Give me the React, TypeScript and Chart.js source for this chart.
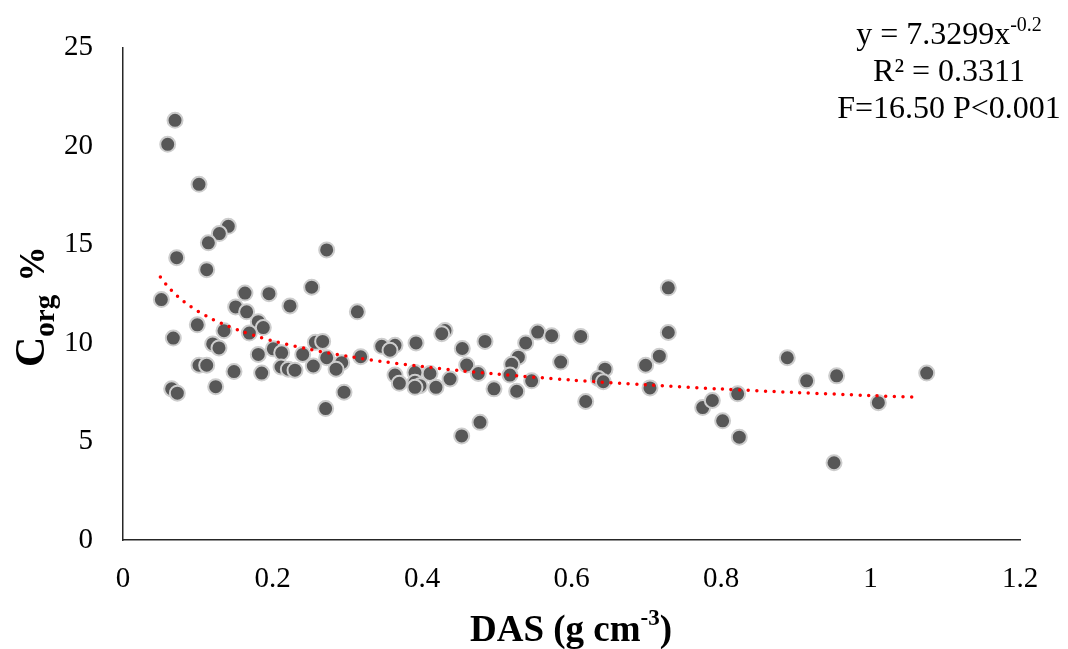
import React, { useEffect, useRef } from "react";
import { Chart, registerables } from "chart.js";

Chart.register(...registerables);

// Bulk density (DAS, g cm-3) values
const DAS = [
  0.0696, 0.0598, 0.1017, 0.1409, 0.1289, 0.1142, 0.0718, 0.112, 0.2725, 0.2524,
  0.1632, 0.1953, 0.0513, 0.1507, 0.1654, 0.2234, 0.3135, 0.181, 0.1877, 0.0994,
  0.0673, 0.1351, 0.169, 0.12, 0.1284, 0.181, 0.2011, 0.2123, 0.2404, 0.2573,
  0.2671, 0.2725, 0.2926, 0.285, 0.318, 0.1017, 0.112, 0.1485, 0.1855, 0.2114,
  0.2212, 0.2301, 0.2546, 0.0651, 0.0727, 0.124, 0.2957, 0.2711,
  0.4308, 0.4264, 0.3461, 0.3639, 0.3572, 0.392, 0.4843, 0.5548, 0.5735, 0.6123,
  0.5387, 0.4539, 0.5289, 0.52, 0.5855, 0.4598, 0.4107, 0.3906, 0.4753, 0.5177,
  0.3639, 0.4375, 0.5467, 0.3697, 0.3906, 0.3973, 0.3906, 0.4187, 0.4963, 0.5267,
  0.619, 0.4776, 0.4531,
  0.7295, 0.7295, 0.7175, 0.6992, 0.6448, 0.6359, 0.6426, 0.705, 0.7755, 0.7884,
  0.8223, 0.8022, 0.8245,
  0.8887, 0.9146, 0.9547, 1.0752, 1.0105, 0.9512,
];

// Organic carbon (Corg %) values
const CORG = [
  21.3, 20.08, 18.05, 15.92, 15.55, 15.08, 14.33, 13.72, 14.72, 12.83,
  12.53, 12.5, 12.2, 11.83, 11.58, 11.88, 11.58, 11.08, 10.78, 10.92,
  10.25, 10.62, 10.5, 9.95, 9.75, 9.42, 9.7, 9.5, 9.42, 10.03,
  10.08, 9.25, 9.0, 8.67, 9.3, 8.87, 8.87, 8.55, 8.47, 8.78,
  8.67, 8.62, 8.83, 7.67, 7.45, 7.78, 7.5, 6.67,
  10.63, 10.47, 9.83, 9.88, 9.63, 10.0, 10.08, 10.55, 10.37, 10.33,
  10.0, 9.72, 9.28, 8.92, 9.03, 8.88, 8.45, 8.5, 8.45, 8.37,
  8.37, 8.17, 8.08, 7.95, 8.0, 7.83, 7.75, 7.75, 7.67, 7.55,
  7.03, 5.97, 5.28,
  12.8, 10.53, 9.33, 8.87, 8.67, 8.2, 8.03, 7.72, 6.72, 7.08,
  7.42, 6.05, 5.22,
  9.25, 8.08, 8.33, 8.47, 6.97, 3.92,
];

// Power trend line printed on the chart: y = 7.3299 x^-0.2
const TREND_A = 7.3299;
const TREND_B = -0.2;
const TREND_X = [
  0.05, 0.06, 0.07, 0.08, 0.09, 0.1, 0.12, 0.14, 0.16, 0.18, 0.2, 0.25, 0.3,
  0.35, 0.4, 0.45, 0.5, 0.6, 0.7, 0.8, 0.9, 1.0, 1.065,
];

const X_TICKS = [0, 0.2, 0.4, 0.6, 0.8, 1, 1.2];
const Y_TICKS = [0, 5, 10, 15, 20, 25];

const ANNOT_EQ = "y = 7.3299x";
const ANNOT_EQ_SUP = "-0.2";
const ANNOT_R2 = "R\u00B2 = 0.3311";
const ANNOT_F = "F=16.50 P<0.001";

const X_TITLE = "DAS (g cm";
const X_TITLE_SUP = "-3";
const X_TITLE_END = ")";
const Y_TITLE_C = "C";
const Y_TITLE_SUB = "org";
const Y_TITLE_PCT = "%";

const SERIF = "'Liberation Serif', 'Times New Roman', serif";

const textPlugin = {
  id: "customText",
  afterDraw(chart: any) {
    const ctx = chart.ctx as CanvasRenderingContext2D;
    ctx.save();
    ctx.fillStyle = "#000";
    ctx.textBaseline = "alphabetic";
    ctx.textAlign = "left";

    // Annotation block (top right)
    const cx = 949;
    const mainFont = `32px ${SERIF}`;
    const supFont = `20px ${SERIF}`;
    ctx.font = mainFont;
    const w1 = ctx.measureText(ANNOT_EQ).width;
    ctx.font = supFont;
    const w1s = ctx.measureText(ANNOT_EQ_SUP).width;
    let x0 = cx - (w1 + w1s) / 2;
    ctx.font = mainFont;
    ctx.fillText(ANNOT_EQ, x0, 44);
    ctx.font = supFont;
    ctx.fillText(ANNOT_EQ_SUP, x0 + w1, 31);
    ctx.font = mainFont;
    ctx.textAlign = "center";
    ctx.fillText(ANNOT_R2, cx, 81);
    ctx.fillText(ANNOT_F, cx, 118);

    // X title
    ctx.textAlign = "left";
    const tFont = `bold 37px ${SERIF}`;
    const tSup = `bold 23px ${SERIF}`;
    ctx.font = tFont;
    const a = ctx.measureText(X_TITLE).width;
    const c = ctx.measureText(X_TITLE_END).width;
    ctx.font = tSup;
    const b = ctx.measureText(X_TITLE_SUP).width;
    x0 = 571 - (a + b + c) / 2;
    ctx.font = tFont;
    ctx.fillText(X_TITLE, x0, 641);
    ctx.font = tSup;
    ctx.fillText(X_TITLE_SUP, x0 + a, 625);
    ctx.font = tFont;
    ctx.fillText(X_TITLE_END, x0 + a + b, 641);

    // Y title (rotated)
    ctx.translate(44, 367);
    ctx.rotate(-Math.PI / 2);
    ctx.font = `bold 42px ${SERIF}`;
    const wc = ctx.measureText(Y_TITLE_C).width;
    ctx.fillText(Y_TITLE_C, 0, 0);
    ctx.font = `bold 29px ${SERIF}`;
    const wo = ctx.measureText(Y_TITLE_SUB + " ").width;
    ctx.fillText(Y_TITLE_SUB, wc, 10);
    ctx.font = `bold 35px ${SERIF}`;
    ctx.fillText(Y_TITLE_PCT, wc + wo + 6, 0);
    ctx.restore();
  },
};

const bgPlugin = {
  id: "bg",
  beforeDraw(chart: any) {
    const ctx = chart.ctx;
    ctx.save();
    ctx.fillStyle = "#fff";
    ctx.fillRect(0, 0, chart.width, chart.height);
    ctx.restore();
  },
};

export default function App() {
  const ref = useRef<HTMLCanvasElement | null>(null);

  useEffect(() => {
    if (!ref.current) return;
    const points = DAS.map((x, i) => ({ x, y: CORG[i] }));
    const trend = TREND_X.map((x) => ({ x, y: TREND_A * Math.pow(x, TREND_B) }));
    const chart = new Chart(ref.current, {
      type: "scatter",
      data: {
        datasets: [
          {
            type: "line",
            data: trend,
            order: 0,
            borderColor: "#FF0000",
            borderWidth: 3.5,
            borderDash: [0, 8.6],
            borderCapStyle: "round",
            pointRadius: 0,
            fill: false,
            tension: 0.3,
          } as any,
          {
            data: points,
            order: 1,
            backgroundColor: "#575757",
            borderColor: "rgba(205,205,205,1)",
            borderWidth: 2,
            pointRadius: 7.5,
            pointHoverRadius: 7.5,
          },
        ],
      },
      options: {
        responsive: false,
        animation: false,
        layout: { padding: { left: 0, top: 40, right: 48, bottom: 0 } },
        plugins: { legend: { display: false }, tooltip: { enabled: false } },
        scales: {
          x: {
            type: "linear",
            min: 0,
            max: 1.2,
            afterFit: (s: any) => {
              s.height = 109;
            },
            afterBuildTicks: (s: any) => {
              s.ticks = X_TICKS.map((v) => ({ value: v }));
            },
            ticks: {
              padding: 22,
              color: "#000",
              font: { family: SERIF, size: 29 },
              callback: (v: any) => String(Math.round(Number(v) * 10) / 10),
            },
            grid: { display: false, drawTicks: false },
            border: { display: true, color: "#262626", width: 1.5 },
          },
          y: {
            type: "linear",
            min: 0,
            max: 25,
            afterFit: (s: any) => {
              s.width = 123;
            },
            afterBuildTicks: (s: any) => {
              s.ticks = Y_TICKS.map((v) => ({ value: v }));
            },
            ticks: {
              padding: 30,
              color: "#000",
              font: { family: SERIF, size: 29 },
            },
            grid: { display: false, drawTicks: false },
            border: { display: true, color: "#262626", width: 1.5 },
          },
        },
      },
      plugins: [bgPlugin, textPlugin],
    });
    return () => chart.destroy();
  }, []);

  return (
    <div style={{ position: "absolute", left: 0, top: 0, width: 1068, height: 649, background: "#fff" }}>
      <canvas ref={ref} width={1068} height={649} />
    </div>
  );
}
